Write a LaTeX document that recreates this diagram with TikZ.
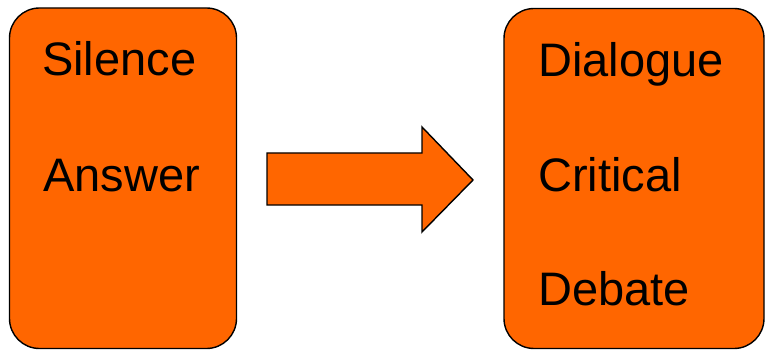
\documentclass[tikz,border=0pt]{standalone}
\usepackage{fontspec}
\setmainfont{Liberation Sans}
\definecolor{boxorange}{HTML}{FF6600}
\begin{document}
\begin{tikzpicture}[x=1pt,y=-1pt,
  panel/.style={draw=black,line width=1.4pt,fill=boxorange,rounded corners=30pt},
  word/.style={anchor=base west,inner sep=0pt,font=\fontsize{47}{56}\selectfont,text=black}]
\useasboundingbox (0,0) rectangle (766,350);
\fill[white] (0,0) rectangle (766,350);
% left box
\draw[panel] (9.5,8) rectangle (236.5,348.5);
\node[word] (silence) at (42,76) {Silence};
\node[word] (answer) at (43,192) {Answer};
% arrow
\coordinate (a1) at (267,153);
\coordinate (a2) at (422,153);
\coordinate (a3) at (422,127);
\coordinate (a4) at (473,180);
\coordinate (a5) at (422,232);
\coordinate (a6) at (422,205);
\coordinate (a7) at (267,205);
\draw[draw=black,line width=1.4pt,fill=boxorange,line join=miter]
  (a1) -- (a2) -- (a3) -- (a4) -- (a5) -- (a6) -- (a7) -- cycle;
% right box
\draw[panel] (504,8.5) rectangle (764,348.5);
\node[word] (dialogue) at (538,77) {Dialogue};
\node[word] (critical) at (538,192) {Critical};
\node[word] (debate) at (538,305) {Debate};
\end{tikzpicture}
\end{document}
